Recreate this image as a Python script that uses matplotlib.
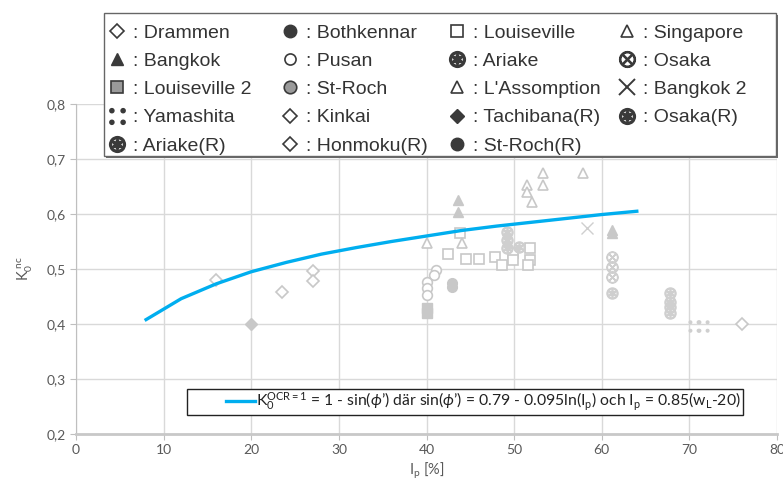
import matplotlib
matplotlib.use('Agg')
import matplotlib.pyplot as plt
from matplotlib.lines import Line2D
from matplotlib.patches import Rectangle
from matplotlib.legend_handler import HandlerBase

plt.rcParams['font.family'] = ['Lato', 'DejaVu Sans']
plt.rcParams['mathtext.fontset'] = 'custom'
plt.rcParams['mathtext.rm'] = 'Lato'
plt.rcParams['mathtext.it'] = 'Lato:italic'
plt.rcParams['mathtext.bf'] = 'Lato:bold'

# ---- data ----
ip_curve = [8, 12, 16, 20, 24, 28, 32, 36, 40, 44, 48, 52, 56, 60, 64]
k0_curve = [0.408, 0.446, 0.473, 0.495, 0.512, 0.527, 0.539, 0.550, 0.560,
            0.570, 0.578, 0.585, 0.592, 0.599, 0.605]

drammen_x = [16.0]; drammen_y = [0.480]
bothkennar_x = []; bothkennar_y = []
louiseville_x = [43.8, 42.5, 44.5, 46.0, 47.8, 48.6, 49.9, 49.9, 51.8, 51.8, 51.6]
louiseville_y = [0.565, 0.528, 0.518, 0.518, 0.522, 0.507, 0.529, 0.517, 0.538, 0.517, 0.507]
singapore_x = [51.5, 51.5, 53.3, 53.3, 52.0, 57.9]
singapore_y = [0.653, 0.640, 0.674, 0.653, 0.622, 0.674]
bangkok_x = [43.6, 43.6, 61.2, 61.2]; bangkok_y = [0.625, 0.604, 0.571, 0.565]
pusan_x = [41.1, 40.8, 40.0, 40.0, 40.0]; pusan_y = [0.498, 0.489, 0.476, 0.465, 0.453]
ariake_x = [49.2, 49.2, 49.2, 50.5]; ariake_y = [0.567, 0.553, 0.538, 0.540]
osaka_x = [61.2, 61.2, 61.2]; osaka_y = [0.522, 0.504, 0.486]
louiseville2_x = [40.0, 40.0]; louiseville2_y = [0.430, 0.420]
stroch_x = [42.9, 42.9]; stroch_y = [0.475, 0.468]
lassomption_x = [40.0, 44.0]; lassomption_y = [0.547, 0.547]
bangkok2_x = [58.3]; bangkok2_y = [0.575]
yamashita_x = [70.5, 71.5]; yamashita_y = [0.397, 0.397]
kinkai_x = [23.5]; kinkai_y = [0.458]
tachibana_x = [20.0]; tachibana_y = [0.400]
osakar_x = [61.2, 67.8, 67.8]; osakar_y = [0.456, 0.440, 0.431]
ariaker_x = [67.8, 67.8]; ariaker_y = [0.456, 0.420]
honmokur_x = [27.0, 27.0, 76.0]; honmokur_y = [0.497, 0.478, 0.400]
strochr_x = []; strochr_y = []

x_ticks = [0, 10, 20, 30, 40, 50, 60, 70, 80]
y_ticks = [0.2, 0.3, 0.4, 0.5, 0.6, 0.7, 0.8]
y_tick_labels = ['0,2', '0,3', '0,4', '0,5', '0,6', '0,7', '0,8']

# name, x, y, marker, filled-style
series = [
    ('Drammen', drammen_x, drammen_y, 'D', 'open'),
    ('Bothkennar', bothkennar_x, bothkennar_y, 'o', 'black'),
    ('Louiseville', louiseville_x, louiseville_y, 's', 'open'),
    ('Singapore', singapore_x, singapore_y, '^', 'open'),
    ('Bangkok', bangkok_x, bangkok_y, '^', 'black'),
    ('Pusan', pusan_x, pusan_y, 'o', 'open'),
    ('Ariake', ariake_x, ariake_y, r'$\circledast$', 'sym'),
    ('Osaka', osaka_x, osaka_y, r'$\otimes$', 'sym'),
    ('Louiseville 2', louiseville2_x, louiseville2_y, 's', 'grey'),
    ('St-Roch', stroch_x, stroch_y, 'o', 'grey'),
    ("L'Assomption", lassomption_x, lassomption_y, '^', 'open'),
    ('Bangkok 2', bangkok2_x, bangkok2_y, 'x', 'sym'),
    ('Yamashita', yamashita_x, yamashita_y, '$\u2237$', 'sym'),
    ('Kinkai', kinkai_x, kinkai_y, 'D', 'open'),
    ('Tachibana(R)', tachibana_x, tachibana_y, 'D', 'black'),
    ('Osaka(R)', osakar_x, osakar_y, r'$\circledast$', 'sym'),
    ('Ariake(R)', ariaker_x, ariaker_y, r'$\circledast$', 'sym'),
    ('Honmoku(R)', honmokur_x, honmokur_y, 'D', 'open'),
    ('St-Roch(R)', strochr_x, strochr_y, 'o', 'black'),
]

W, H = 783, 487
fig = plt.figure(figsize=(W / 100, H / 100), dpi=100)
ax = fig.add_axes([76 / W, (H - 434) / H, (777 - 76) / W, (434 - 104) / H])

light = '#c8c8c8'
for name, xs, ys, mk, style in series:
    ms = 6 if mk == 'D' else 7
    if style == 'open':
        ax.plot(xs, ys, linestyle='none', marker=mk, ms=ms, mfc='white', mec=light, mew=1.2, zorder=3)
    elif style == 'sym':
        ax.plot(xs, ys, linestyle='none', marker=mk, ms=8, color='#cfcfcf', mew=1.0, zorder=3)
    else:
        ax.plot(xs, ys, linestyle='none', marker=mk, ms=ms, mfc=light, mec=light, mew=1.0, zorder=3)

curve_label = (r"$\mathregular{K_0^{OCR=1}}$ = 1 - sin($\phi$’) där sin($\phi$’) = 0.79 - "
               r"0.095ln($\mathregular{I_p}$) och $\mathregular{I_p}$ = 0.85($\mathregular{w_L}$-20)")
line, = ax.plot(ip_curve, k0_curve, color='#00AEEF', lw=2.4, zorder=4, label=curve_label)

ax.set_xlim(0, 80)
ax.set_ylim(0.2, 0.8)
ax.set_xticks(x_ticks)
ax.set_yticks(y_ticks)
ax.set_yticklabels(y_tick_labels)
ax.grid(True, color='#d9d9d9', lw=1.0)
ax.set_axisbelow(True)
for s in ['top', 'right']:
    ax.spines[s].set_visible(False)
ax.spines['left'].set_color('#bfbfbf')
ax.spines['bottom'].set_color('#c8c8c8')
ax.spines['bottom'].set_linewidth(2.0)
ax.tick_params(colors='#bfbfbf', labelcolor='#595959', labelsize=10, length=4, direction='out')
ax.set_xlabel(r'$\mathregular{I_p}$ [%]', fontsize=10.5, color='#595959', labelpad=3)
ax.set_ylabel(r'$\mathregular{K_0^{\ nc}}$', fontsize=10.5, color='#595959', labelpad=8)


class RightLine(HandlerBase):
    """Legend line drawn only on the right part of the handle box."""
    def create_artists(self, legend, orig_handle, xdescent, ydescent, width, height, fontsize, trans):
        y = height / 2 - ydescent
        ln = Line2D([-xdescent + width - 21, -xdescent + width], [y, y],
                    color=orig_handle.get_color(), lw=orig_handle.get_linewidth(), transform=trans)
        return [ln]


leg2 = ax.legend(handles=[line], loc='lower left',
                 bbox_to_anchor=((187 - 76) / (777 - 76), (434 - 415) / (434 - 104)),
                 frameon=True, fancybox=False, edgecolor='#222222', framealpha=1,
                 fontsize=11.3, handlelength=4.2, handletextpad=0.1, borderpad=0.12,
                 borderaxespad=0, handler_map={Line2D: RightLine()})
leg2.get_frame().set_linewidth(1.0)
for t in leg2.get_texts():
    t.set_color('#222222')

# ---- top (scanned) legend ----
bx0, by0, bx1, by1 = 104, 13, 776, 156
fig.add_artist(Rectangle((bx0 / W + 2 / W, 1 - by1 / H - 2 / H), (bx1 - bx0) / W, (by1 - by0) / H,
                         transform=fig.transFigure, facecolor='#6a6a6a', edgecolor='none', zorder=3))
fig.add_artist(Rectangle((bx0 / W, 1 - by1 / H), (bx1 - bx0) / W, (by1 - by0) / H,
                         transform=fig.transFigure, facecolor='white', edgecolor='#666666', lw=1.0, zorder=3.1))

dark = '#3a3a3a'
def proxy(mk, style):
    if style == 'open':
        return Line2D([], [], linestyle='none', marker=mk, ms=8 if mk != 'D' else 7, mfc='white', mec=dark, mew=1.2)
    if style == 'sym':
        return Line2D([], [], linestyle='none', marker=mk, ms=11, color=dark, mew=1.4)
    if style == 'grey':
        return Line2D([], [], linestyle='none', marker=mk, ms=9, mfc='#9a9a9a', mec=dark, mew=1.2)
    return Line2D([], [], linestyle='none', marker=mk, ms=9 if mk != 'D' else 7, mfc=dark, mec=dark)

col_x = [105, 278, 445, 615]
for c in range(4):
    entries = series[c::4]
    handles = [proxy(mk, st) for _, _, _, mk, st in entries]
    labels = [': ' + n for n, *_ in entries]
    lg = fig.legend(handles, labels, loc='upper left', bbox_to_anchor=(col_x[c] / W, 1 - 20 / H),
                    frameon=False, prop={'family': 'Liberation Sans', 'size': 14},
                    handlelength=0.8, handletextpad=0.45, labelspacing=0.55, borderpad=0.2,
                    borderaxespad=0)
    lg.set_zorder(6)
    for t in lg.get_texts():
        t.set_color('#333333')

fig.savefig('out.png', dpi=100)
